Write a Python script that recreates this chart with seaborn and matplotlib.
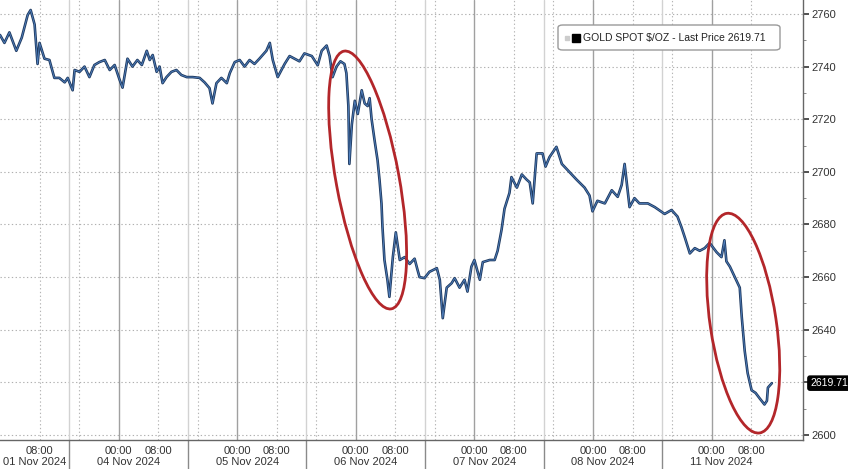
import matplotlib
matplotlib.use("Agg")
import matplotlib.pyplot as plt
import matplotlib.transforms as mtransforms
from matplotlib.patches import Ellipse, FancyBboxPatch
import seaborn as sns
import pandas as pd

# session hours counted from 01 Nov 2024 00:00 (weekend gap removed)
hours = [0.0, 0.9, 1.9, 3.3, 4.4, 5.6, 6.2, 7.0, 7.6, 8.0, 9.0, 10.0, 11.0, 12.0, 13.1, 13.7,
         14.7, 15.1, 16.1, 17.1, 18.1, 19.1, 20.1, 21.2, 22.2, 23.2, 24.2, 24.8, 25.8, 26.8,
         27.8, 28.7, 29.7, 30.3, 30.9, 31.7, 32.3, 32.9, 33.7, 34.7, 35.7, 36.7, 37.8,
         39.0, 40.4, 41.4, 42.4, 43.0, 43.8, 44.8, 45.9, 46.5, 47.5, 48.5, 49.5, 50.5,
         51.5, 52.5, 53.9, 54.6, 55.2, 56.2, 57.6, 58.6, 60.6, 61.6, 63.1, 64.3, 65.1,
         66.1, 66.7, 67.3, 68.1, 68.9, 69.7, 70.1, 70.5, 70.7, 71.2, 71.8, 72.4, 73.2,
         73.8, 74.4, 74.8, 75.2, 75.8, 76.4, 76.8, 77.2, 77.4, 77.8, 78.4, 78.8, 79.5,
         80.1, 80.9, 81.9, 82.9, 83.9, 84.5, 84.9, 85.9, 86.9, 88.4, 89.0, 89.6, 90.4,
         91.4, 92.0, 93.0, 94.0, 94.6, 95.4, 96.0, 97.1, 97.7, 99.1, 100.1, 100.7, 101.5,
         102.1, 103.1, 103.5, 104.6, 105.6, 106.6, 107.2, 107.8, 108.6, 109.8, 110.4,
         111.2, 112.6, 113.7, 114.7, 115.7, 116.7, 118.3, 119.3, 119.9, 120.9, 122.4,
         123.8, 125.0, 125.8, 126.4, 127.4, 128.4, 129.4, 131.1, 132.5, 134.5, 135.9,
         137.1, 137.9, 138.6, 139.6, 140.6, 141.6, 142.6, 143.6, 145.0, 146.0, 146.6,
         147.0, 147.7, 148.7, 149.7, 150.1, 150.7, 151.3, 152.1, 152.9, 153.7, 154.7,
         155.2, 155.4, 156.2]
price = [2752, 2749, 2753, 2746, 2751, 2759.6, 2761.5, 2756, 2741, 2749, 2743, 2742.5,
         2735.7, 2735.7, 2734, 2735.7,
         2731, 2738.7, 2738, 2740, 2736, 2740.6, 2741.7, 2742.5, 2738.7, 2740.6, 2735,
         2732, 2743, 2740, 2742.5, 2740.6, 2746, 2742.5, 2744.4, 2738, 2740, 2733.7, 2736,
         2738, 2738.7, 2736.8, 2736,
         2736, 2735.7, 2734, 2731.8, 2726, 2733.7, 2735.7, 2733.7, 2737.5, 2741.7, 2742.5,
         2740, 2742.5, 2741, 2743, 2746, 2749, 2742.5, 2736, 2741, 2744, 2742, 2745, 2744,
         2740.5, 2746, 2748, 2744, 2736, 2740, 2742, 2741, 2737.5, 2725, 2703, 2718, 2727,
         2722, 2731, 2726, 2725, 2728, 2720, 2712, 2704.5, 2697, 2688, 2679, 2666.5, 2659,
         2652.5, 2667.6, 2677, 2666.5, 2667.6, 2665, 2667, 2662.7, 2660, 2659.6, 2662,
         2663.4, 2659, 2644.4, 2656, 2657.7, 2659.6, 2656, 2659, 2654.5, 2664, 2666.5, 2659,
         2665.7, 2666.5, 2666.5, 2670, 2678, 2686, 2692, 2698, 2694, 2699, 2697, 2696, 2688,
         2707, 2707, 2702, 2705.6, 2709.5, 2703, 2701, 2699, 2697, 2694, 2691, 2685, 2689,
         2688, 2693, 2690.5, 2695, 2703, 2686.6, 2690, 2688, 2688, 2686.6, 2684, 2685.5,
         2683, 2679, 2675, 2669, 2671, 2670, 2671, 2673, 2669.5, 2667.6, 2674, 2666, 2664,
         2660, 2656, 2645, 2632, 2623.5, 2617, 2616, 2614, 2611.6, 2613, 2618, 2619.7]

days = ["01 Nov 2024", "04 Nov 2024", "05 Nov 2024", "06 Nov 2024",
        "07 Nov 2024", "08 Nov 2024", "11 Nov 2024"]
day_centers = [7, 26, 50, 74, 98, 122, 146]
day_breaks = [14, 38, 62, 86, 110, 134]
midnights = [24, 48, 72, 96, 120, 144]
hour_ticks = [8, 24, 32, 48, 56, 72, 80, 96, 104, 120, 128, 144, 152]
hour_labels = ["08:00"] + ["00:00", "08:00"] * 6
y_ticks = list(range(2600, 2761, 20))
last_price = 2619.71
legend_text = "GOLD SPOT $/OZ - Last Price 2619.71"

df = pd.DataFrame({"hours": hours, "price": price})

sns.set_style("white")
plt.rcParams["font.family"] = ["Liberation Sans", "DejaVu Sans"]

fig, ax = plt.subplots(figsize=(8.48, 4.69), dpi=100)
fig.subplots_adjust(left=0, right=803 / 848, bottom=29 / 469, top=1.0)

# grid
dots = (0, (1.2, 2.2))
for y in y_ticks:
    ax.axhline(y, color="#b0b0b0", lw=0.8, ls=dots, zorder=0)
for m in midnights:
    ax.axvline(m, color="#a0a0a0", lw=1.0, zorder=0)
    ax.axvline(m - 8, color="#b5b5b5", lw=0.8, ls=dots, zorder=0)
    ax.axvline(m + 8, color="#b5b5b5", lw=0.8, ls=dots, zorder=0)
ax.axvline(8, color="#b5b5b5", lw=0.8, ls=dots, zorder=0)
trans = mtransforms.blended_transform_factory(ax.transData, ax.transAxes)
for b in day_breaks:
    ax.plot([b, b], [0, 1], transform=trans, color="#d2d2d2", lw=1.0, zorder=0)
    ax.plot([b, b], [-0.066, 0], transform=trans, color="#8a8a8a", lw=1.0,
            clip_on=False)

sns.lineplot(data=df, x="hours", y="price", ax=ax, color="#1f3a60", lw=1.9,
             estimator=None, zorder=3)
ax.plot(hours, price, color="#5d92d6", lw=0.6, alpha=0.8, zorder=4)

ax.set_xlim(0, 162.5)
ax.set_ylim(2598.1, 2765.3)
ax.set_xlabel("")
ax.set_ylabel("")

ax.yaxis.tick_right()
ax.set_yticks(y_ticks)
ax.set_yticklabels(["" if t == 2620 else str(t) for t in y_ticks])
ax.set_yticks(range(2610, 2760, 20), minor=True)
ax.tick_params(axis="y", which="major", direction="out", length=4, width=1.2,
               colors="#333333", labelsize=8, pad=2)
ax.tick_params(axis="y", which="minor", direction="out", length=2, color="#777777")

ax.set_xticks(hour_ticks)
ax.set_xticklabels(hour_labels)
ax.set_xticks(range(4, 162, 4), minor=True)
ax.tick_params(axis="x", which="major", direction="out", length=3, color="#777777",
               labelsize=8, labelcolor="#333333", pad=1)
ax.tick_params(axis="x", which="minor", direction="out", length=2, color="#999999")

for d, c in zip(days, day_centers):
    ax.text(c, -0.05, d, transform=trans, ha="center", va="center",
            fontsize=8, color="#333333")

for s in ["left", "top"]:
    ax.spines[s].set_visible(False)
for s in ["right", "bottom"]:
    ax.spines[s].set_color("#666666")
    ax.spines[s].set_linewidth(1.0)

# last price tag
ax.annotate(f"{last_price:.2f}", xy=(1.0, last_price),
            xycoords=("axes fraction", "data"), xytext=(5, 0),
            textcoords="offset points", ha="left", va="center", fontsize=7.5,
            color="white",
            bbox=dict(boxstyle="round,pad=0.2", fc="black", ec="black"))

# legend box
ax.add_patch(FancyBboxPatch((558 / 803, 1 - 50 / 440), 222 / 803, 25 / 440,
                            boxstyle="round,pad=0,rounding_size=0.006",
                            transform=ax.transAxes, fc="white", ec="#9a9a9a",
                            lw=1.0, zorder=5, clip_on=False))
ax.plot([567 / 803], [1 - 38 / 440], marker="s", ms=3, color="#cccccc",
        transform=ax.transAxes, zorder=6, clip_on=False)
ax.plot([576 / 803], [1 - 38 / 440], marker="s", ms=6, color="black",
        transform=ax.transAxes, zorder=6, clip_on=False)
ax.text(583 / 803, 1 - 38 / 440, legend_text, transform=ax.transAxes,
        ha="left", va="center", fontsize=7.5, color="#222222", zorder=6)

# highlight ellipses (pixel sized, centred on data points)
for cx, cy, w, h, ang in [(74.4, 2696.9, 63, 262, 10.4), (150.4, 2642.5, 66, 222, 8.5)]:
    e = Ellipse((0, 0), w, h, angle=ang, fill=False, ec="#b3262a", lw=2.0,
                transform=mtransforms.ScaledTranslation(cx, cy, ax.transData),
                zorder=7, clip_on=False)
    ax.add_patch(e)

fig.savefig("out.png", dpi=100)
